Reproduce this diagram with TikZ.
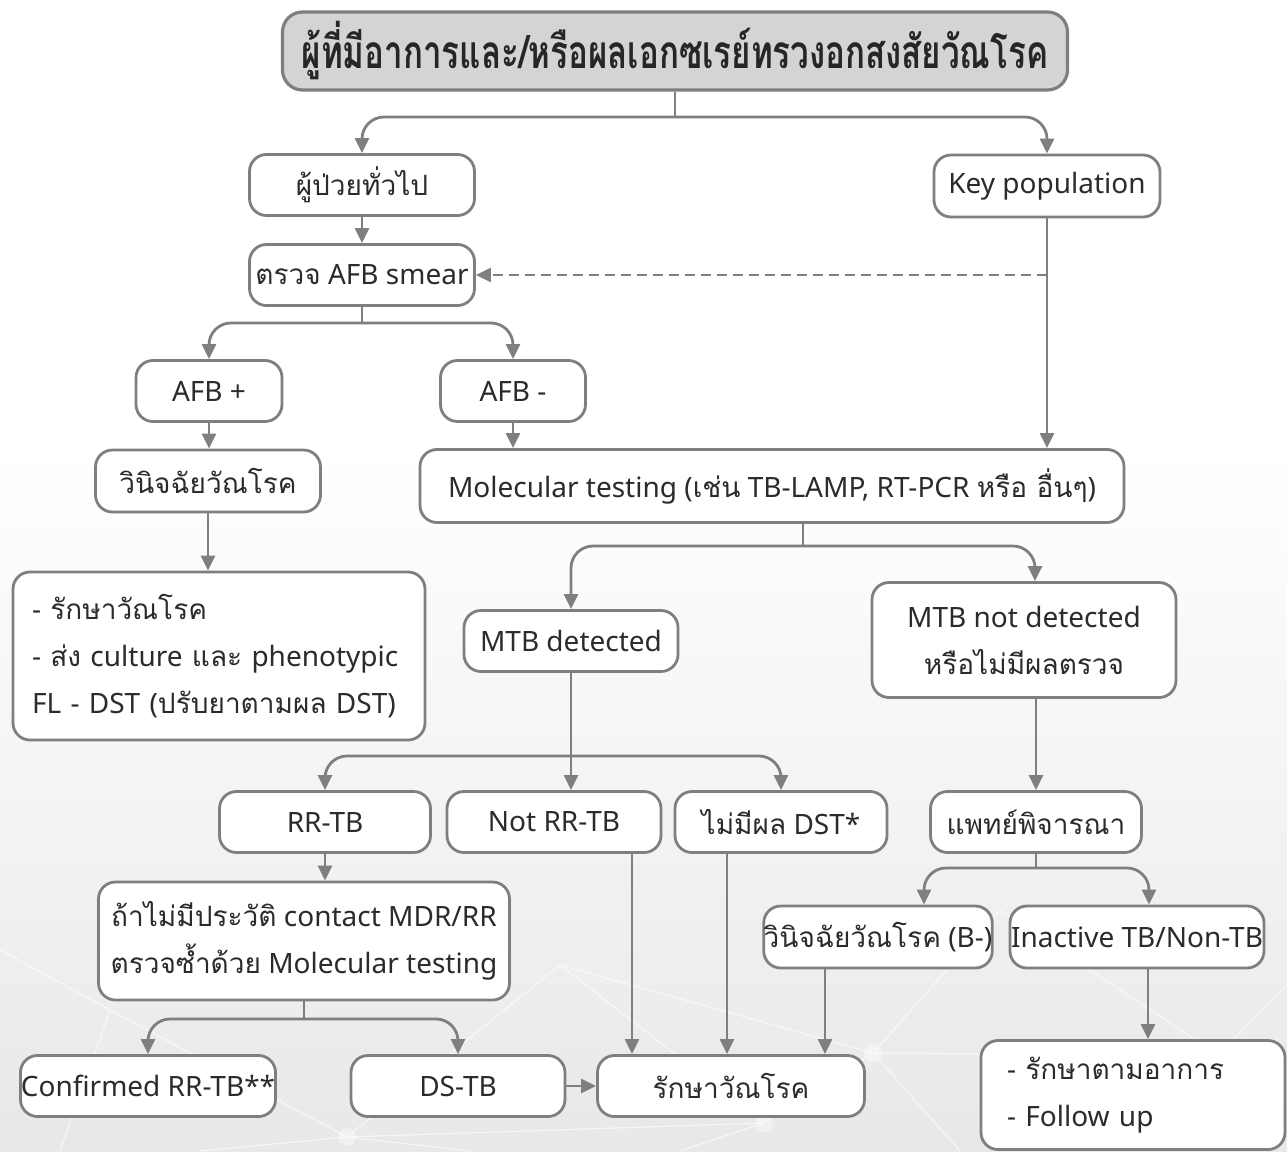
\documentclass[tikz,border=0pt]{standalone}
\usepackage{fontspec}
\usetikzlibrary{arrows.meta}
\setmainfont{Noto Sans}
\newfontfamily\thai[Script=Thai]{Loma}
\newcommand\thx[1]{{\thai #1}}
\definecolor{edge}{HTML}{7F7F7F}
\definecolor{ink}{HTML}{2B2B2B}
\definecolor{headfill}{HTML}{D4D4D4}
\definecolor{bgg}{HTML}{E8E8E8}
\begin{document}
\begin{tikzpicture}[x=1pt,y=-1pt,
  sz/.style 2 args={minimum width=#1pt, minimum height=#2pt},
  box/.style={draw=edge, line width=2.8pt, rounded corners=17pt, fill=white,
    text=ink, inner sep=0pt, align=center, font=\fontsize{28}{47}\selectfont},
  headbox/.style={box, fill=headfill, line width=3.2pt, rounded corners=20pt, text=black!85,
    font=\fontsize{46}{52}\selectfont\thai\bfseries},
  conn/.style={draw=edge, line width=2.8pt},
  arr/.style={conn, -{Triangle[length=15pt,width=14pt]}},
  forkarr/.style={arr, rounded corners=22pt},
  dasharr/.style={arr, dash pattern=on 10pt off 6pt},
  web/.style={draw=white, line width=1.2pt, opacity=0.6}]
\useasboundingbox (0,0) rectangle (1287,1151);
% backdrop: white fading to light grey towards the bottom
\fill[white] (0,0) rectangle (1287,1151);
\shade[top color=white, bottom color=bgg] (0,450) rectangle (1287,1151);
% faint network texture in the lower part
\coordinate (w1) at (347,1137);
\coordinate (w2) at (873,1053);
\coordinate (w3) at (764,1123);
\coordinate (w4) at (1218,1055);
\coordinate (w5) at (110,1010);
\coordinate (w6) at (560,965);
\coordinate (w7) at (1000,910);
\draw[web] (w1) -- (w5) (w1) -- (w6) (w1) -- (200,1151) (w1) -- (470,1151)
  (w3) -- (w2) (w3) -- (w6) (w3) -- (680,1151) (w3) -- (w1)
  (w2) -- (w7) (w2) -- (w4) (w2) -- (960,1151) (w4) -- (1287,985)
  (w4) -- (1140,1151) (w4) -- (w7) (w5) -- (0,950) (w5) -- (60,1151) (w6) -- (w2);
\foreach \p in {w1,w2,w3,w4}
  \fill[white, opacity=0.4] (\p) circle (9pt);

% ---- boxes ----
\node[headbox, sz={785}{78}] (title) at (675,51)
  {\scalebox{0.72}[1]{ผู้ที่มีอาการและ/หรือผลเอกซเรย์ทรวงอกสงสัยวัณโรค}};
\node[box, sz={225}{61}] (gen) at (362,185) {\thx{ผู้ป่วยทั่วไป}};
\node[box, sz={226}{62}] (key) at (1047,186) {Key population};
\node[box, sz={225}{61}] (afb) at (362,275) {\thx{ตรวจ} AFB smear};
\node[box, sz={146}{61}] (afbp) at (209,391) {AFB +};
\node[box, sz={145}{61}] (afbm) at (513,391) {AFB -};
\node[box, sz={225}{62}] (diag) at (208,481) {\thx{วินิจฉัยวัณโรค}};
\node[box, sz={412}{168}, align=left, text width=374pt, inner xsep=19pt] (treat1) at (219,656)
  {- \thx{รักษาวัณโรค}\\- \thx{ส่ง} culture \thx{และ} phenotypic\\FL - DST (\thx{ปรับยาตามผล} DST)};
\node[box, sz={704}{73}] (mol) at (772,486) {Molecular testing (\thx{เช่น} TB-LAMP, RT-PCR \thx{หรือ อื่นๆ})};
\node[box, sz={214}{61}] (mtbd) at (571,641) {MTB detected};
\node[box, sz={304}{115}] (mtbn) at (1024,640) {MTB not detected\\\thx{หรือไม่มีผลตรวจ}};
\node[box, sz={211}{61}] (rr) at (325,822) {RR-TB};
\node[box, sz={214}{61}] (notrr) at (554,822) {Not RR-TB};
\node[box, sz={212}{61}] (nodst) at (781,822) {\thx{ไม่มีผล} DST*};
\node[box, sz={211}{61}] (doc) at (1036,822) {\thx{แพทย์พิจารณา}};
\node[box, sz={228}{62}] (diagb) at (878,937) {\thx{วินิจฉัยวัณโรค} (B-)};
\node[box, sz={254}{62}] (inact) at (1137,937) {Inactive TB/Non-TB};
\node[box, sz={411}{118}] (ifno) at (304,941) {\thx{ถ้าไม่มีประวัติ} contact MDR/RR\\\thx{ตรวจซ้ำด้วย} Molecular testing};
\node[box, sz={255}{61}] (conf) at (148,1086) {Confirmed RR-TB**};
\node[box, sz={214}{61}] (ds) at (458,1086) {DS-TB};
\node[box, sz={267}{61}] (tx) at (731,1086) {\thx{รักษาวัณโรค}};
\node[box, sz={304}{109}, align=left, text width=252pt, inner xsep=26pt] (sym) at (1133,1095)
  {- \thx{รักษาตามอาการ}\\- Follow up};

% ---- branch points ----
\coordinate (j1) at (675,117);
\coordinate (j2) at (362,323);
\coordinate (j3) at (803,546);
\coordinate (j4) at (571,756);
\coordinate (j5) at (1036,868);
\coordinate (j6) at (304,1019);

% ---- connectors ----
\draw[conn] (title.south) -- (j1);
\draw[forkarr] (j1) -| (gen.north);
\draw[forkarr] (j1) -| (key.north);
\draw[arr] (gen.south) -- (afb.north);
\draw[arr] (key.south) -- (key.south |- mol.north);
\draw[dasharr] (key.south |- afb.east) -- (afb.east);
\draw[conn] (afb.south) -- (j2);
\draw[forkarr] (j2) -| (afbp.north);
\draw[forkarr] (j2) -| (afbm.north);
\draw[arr] (afbp.south) -- (afbp.south |- diag.north);
\draw[arr] (diag.south) -- (diag.south |- treat1.north);
\draw[arr] (afbm.south) -- (afbm.south |- mol.north);
\draw[conn] (mol.south -| j3) -- (j3);
\draw[forkarr] (j3) -| (mtbd.north);
\draw[forkarr] (j3) -| ([xshift=11pt]mtbn.north);
\draw[arr] (mtbd.south) -- (mtbd.south |- notrr.north);
\draw[forkarr] (j4) -| (rr.north);
\draw[forkarr] (j4) -| (nodst.north);
\draw[arr] (mtbn.south -| doc.north) -- (doc.north);
\draw[conn] (doc.south) -- (j5);
\draw[forkarr] (j5) -| ([xshift=46pt]diagb.north);
\draw[forkarr] (j5) -| ([xshift=12pt]inact.north);
\draw[arr] (rr.south) -- (rr.south |- ifno.north);
\draw[conn] (ifno.south) -- (j6);
\draw[forkarr] (j6) -| (conf.north);
\draw[forkarr] (j6) -| (ds.north);
\draw[arr] (ds.east) -- (tx.west);
\draw[arr] ([xshift=78pt]notrr.south) -- ([xshift=78pt]notrr.south |- tx.north);
\draw[arr] ([xshift=-54pt]nodst.south) -- ([xshift=-54pt]nodst.south |- tx.north);
\draw[arr] ([xshift=-53pt]diagb.south) -- ([xshift=-53pt]diagb.south |- tx.north);
\draw[arr] ([xshift=11pt]inact.south) -- ([xshift=11pt]inact.south |- sym.north);
\end{tikzpicture}
\end{document}
